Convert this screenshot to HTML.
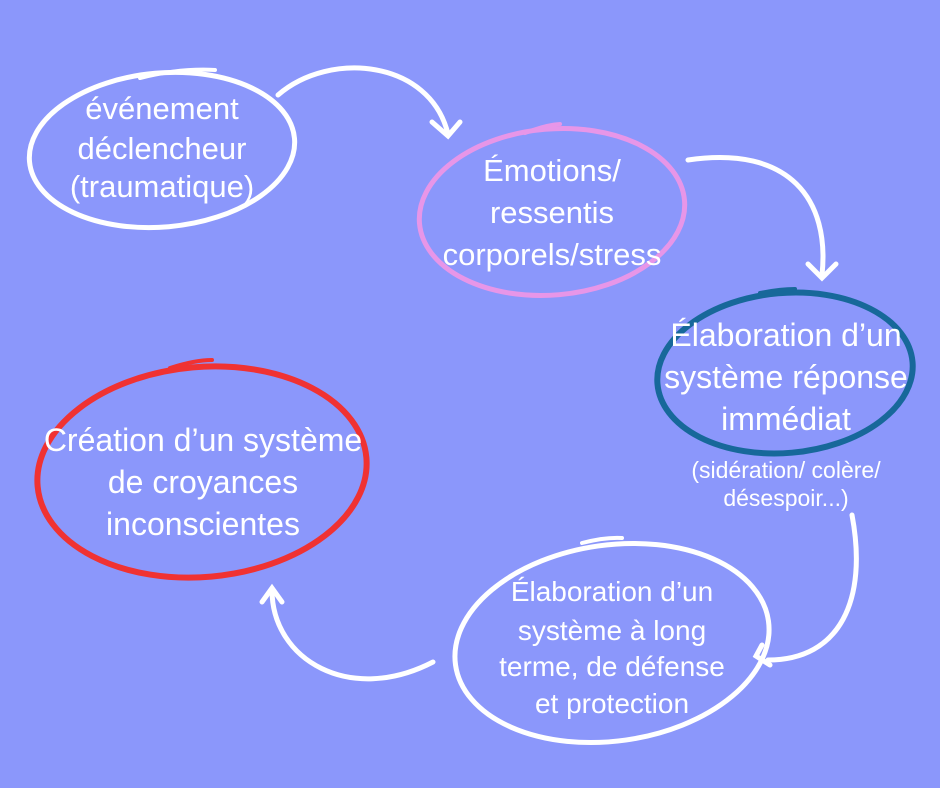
<!DOCTYPE html>
<html><head><meta charset="utf-8"><style>
html,body{margin:0;padding:0;background:#8b97fb;}
svg{display:block}
text{font-family:"Liberation Sans",sans-serif;fill:#fff;text-anchor:middle}
</style></head><body>
<svg width="940" height="788" viewBox="0 0 940 788" xmlns="http://www.w3.org/2000/svg">
<rect width="940" height="788" fill="#8b97fb"/>
<g fill="none" stroke-linecap="round">
<ellipse cx="162" cy="150" rx="133" ry="77" stroke="#fff" stroke-width="5" transform="rotate(-5 162 150)"/>
<path d="M140 78 Q180 68 215 70" stroke="#fff" stroke-width="4"/>
<ellipse cx="552" cy="212" rx="133" ry="83" stroke="#e796e8" stroke-width="5" transform="rotate(-5 552 212)"/>
<path d="M525 133 Q545 125 560 124" stroke="#e796e8" stroke-width="4"/>
<ellipse cx="785" cy="373" rx="128" ry="80" stroke="#17689a" stroke-width="6" transform="rotate(-5 785 373)"/>
<path d="M760 293 Q780 289 795 289" stroke="#17689a" stroke-width="4"/>
<ellipse cx="202" cy="472" rx="165" ry="105" stroke="#f03232" stroke-width="6" transform="rotate(-5 202 472)"/>
<path d="M170 368 Q195 360 212 360" stroke="#f03232" stroke-width="4"/>
<ellipse cx="612" cy="643" rx="158" ry="98" stroke="#fff" stroke-width="5" transform="rotate(-8 612 643)"/>
<path d="M582 543 Q605 537 622 538" stroke="#fff" stroke-width="4"/>
<g stroke="#fff" stroke-width="5">
<path d="M278 95 C330 50 430 60 448 134"/>
<path d="M432 122 L448 136 L460 122"/>
<path d="M688 160 C790 145 830 200 822 275"/>
<path d="M808 264 L822 278 L836 264"/>
<path d="M852 515 C868 600 840 660 768 660"/>
<path d="M762 645 L756 656 L770 665"/>
<path d="M433 662 C350 705 272 660 272 590"/>
<path d="M262 602 L272 588 L282 602"/>
</g>
</g>
<g font-size="31">
<text x="162" y="119">événement</text>
<text x="162" y="159">déclencheur</text>
<text x="162" y="197">(traumatique)</text>
<text x="552" y="181">Émotions/</text>
<text x="552" y="223">ressentis</text>
<text x="552" y="265">corporels/stress</text>
</g>
<g font-size="32">
<text x="786" y="346">Élaboration d’un</text>
<text x="786" y="388">système réponse</text>
<text x="786" y="430">immédiat</text>
<text x="203" y="451">Création d’un système</text>
<text x="203" y="493">de croyances</text>
<text x="203" y="535">inconscientes</text>
</g>
<g font-size="23">
<text x="786" y="478">(sidération/ colère/</text>
<text x="786" y="506">désespoir...)</text>
</g>
<g font-size="28">
<text x="612" y="601">Élaboration d’un</text>
<text x="612" y="640">système à long</text>
<text x="612" y="676">terme, de défense</text>
<text x="612" y="713">et protection</text>
</g>
</svg>
</body></html>
